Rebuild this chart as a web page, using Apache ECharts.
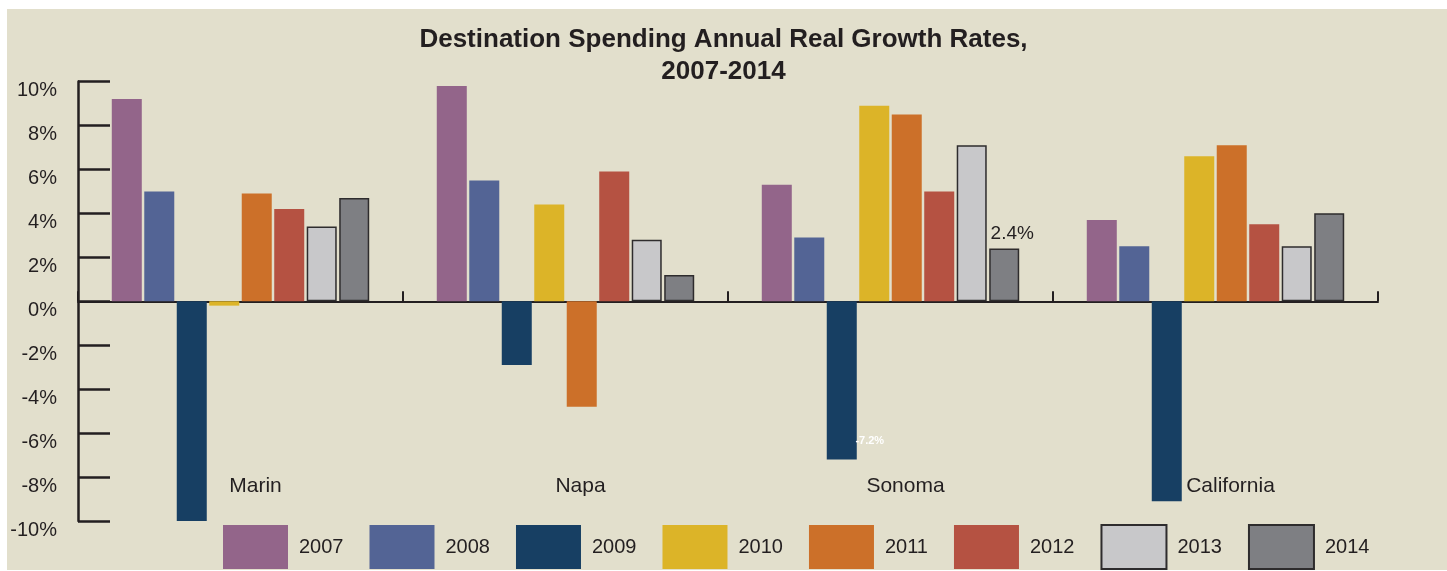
<!DOCTYPE html>
<html>
<head>
<meta charset="utf-8">
<script src="https://cdn.jsdelivr.net/npm/echarts@6/dist/echarts.min.js"></script>
<style>
  html, body { margin: 0; padding: 0; background: #ffffff; }
  #panel { position: absolute; left: 7px; top: 9px; width: 1440px; height: 561px; background: #e2dfcc; }
  #chart { position: absolute; left: 0; top: 0; width: 1447px; height: 571px; }
</style>
</head>
<body>
<div id="panel"></div>
<div id="chart"></div>
<script>
// Regions and years
const regions = ['Marin', 'Napa', 'Sonoma', 'California'];
const years = ['2007', '2008', '2009', '2010', '2011', '2012', '2013', '2014'];

// Annual real growth in destination spending (%), per year, in region order
const growth2007 = [9.2, 9.8, 5.3, 3.7];
const growth2008 = [5.0, 5.5, 2.9, 2.5];
const growth2009 = [-10.0, -2.9, -7.2, -9.1];
const growth2010 = [-0.2, 4.4, 8.9, 6.6];
const growth2011 = [4.9, -4.8, 8.5, 7.1];
const growth2012 = [4.2, 5.9, 5.0, 3.5];
const growth2013 = [3.4, 2.8, 7.1, 2.5];
const growth2014 = [4.7, 1.2, 2.4, 4.0];

// Value-axis ticks
const yTicks = { min: -10, max: 10, step: 2 };

const growthByYear = [growth2007, growth2008, growth2009, growth2010,
                      growth2011, growth2012, growth2013, growth2014];

const ink = '#231f20';
const fills = ['#93658a', '#536495', '#173f63', '#dcb428', '#cc7029', '#b55242', '#c8c8ca', '#7e7f83'];
const outlined = { '2013': true, '2014': true };

const fmtPct = v => v.toFixed(1) + '%';

// Value callouts: Sonoma 2009 (white, inside the bar) and Sonoma 2014 (above the bar)
function buildData(yearIdx) {
  const year = years[yearIdx];
  return growthByYear[yearIdx].map((v, i) => {
    const item = { value: v };
    if (regions[i] === 'Sonoma' && year === '2009') {
      item.label = {
        show: true, position: 'insideBottom', offset: [28, -8],
        formatter: p => fmtPct(p.value), color: '#ffffff',
        fontSize: 11, fontWeight: 'bold'
      };
    }
    if (regions[i] === 'Sonoma' && year === '2014') {
      item.label = {
        show: true, position: 'top', offset: [8, 0],
        formatter: p => fmtPct(p.value), color: ink, fontSize: 19
      };
    }
    return item;
  });
}

const series = years.map((year, k) => ({
  name: year,
  type: 'bar',
  barWidth: 30,
  barGap: '8.3%',
  data: buildData(k),
  itemStyle: outlined[year]
    ? { color: fills[k], borderColor: '#2e2c2d', borderWidth: 1.5 }
    : { color: fills[k] },
  emphasis: { disabled: true }
}));

const chart = echarts.init(document.getElementById('chart'), null, { renderer: 'canvas' });

chart.setOption({
  animation: false,
  backgroundColor: 'transparent',
  textStyle: { fontFamily: '"Liberation Sans", Arial, Helvetica, sans-serif', color: ink },
  title: {
    text: 'Destination Spending Annual Real Growth Rates,\n2007-2014',
    left: 'center',
    top: 24,
    padding: 0,
    textStyle: { fontSize: 26, fontWeight: 'bold', lineHeight: 32, color: ink }
  },
  legend: {
    data: years,
    left: 223,
    top: 524,
    padding: 0,
    icon: 'rect',
    itemWidth: 65,
    itemHeight: 44,
    itemGap: 26,
    selectedMode: false,
    textStyle: { fontSize: 20, color: ink, padding: [0, 0, 0, 6] }
  },
  grid: { left: 78, right: 69, top: 81.5, bottom: 50, containLabel: false, outerBoundsMode: 'none' },
  xAxis: [
    {
      // zero line with category boundary ticks
      type: 'category',
      data: regions,
      axisLine: { onZero: true, lineStyle: { color: ink, width: 2 } },
      axisTick: { show: true, inside: true, length: 10, lineStyle: { color: ink, width: 2 } },
      axisLabel: { show: false },
      splitLine: { show: false }
    },
    {
      // region names, placed low inside the plot
      type: 'category',
      data: regions,
      position: 'bottom',
      axisLine: { show: false, onZero: false },
      axisTick: { show: false },
      axisLabel: { show: true, margin: -45, fontSize: 21, color: ink, padding: [0, 0, 0, 30] },
      splitLine: { show: false }
    }
  ],
  yAxis: {
    type: 'value',
    min: yTicks.min,
    max: yTicks.max,
    interval: yTicks.step,
    axisLine: { show: true, lineStyle: { color: ink, width: 2.5 } },
    axisTick: { show: true, inside: true, length: 32, lineStyle: { color: ink, width: 2.5 } },
    axisLabel: { formatter: '{value}%', fontSize: 20, color: ink, margin: 21, verticalAlign: 'top', lineHeight: 18 },
    splitLine: { show: false }
  },
  series: series
});
</script>
</body>
</html>
